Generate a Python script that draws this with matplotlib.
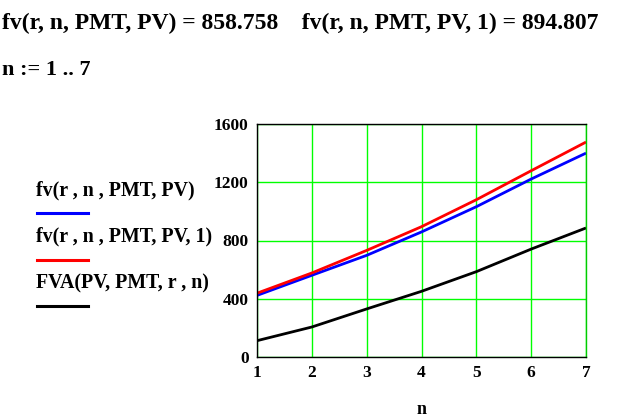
import matplotlib
matplotlib.use("Agg")
import matplotlib.pyplot as plt

n_vals = [1, 2, 3, 4, 5, 6, 7]
fv_end = [423, 561, 698, 858.758, 1032, 1222, 1400]
fv_begin = [438, 577, 732, 894.807, 1080, 1279, 1476]
fva = [112, 206, 330, 451, 586, 741, 886]
y_ticks = [0, 400, 800, 1200, 1600]
legend_labels = ["fv(r , n , PMT, PV)", "fv(r , n , PMT, PV, 1)", "FVA(PV, PMT, r , n)"]
colors = ["#0000FF", "#FF0000", "#000000"]

FONT = "Liberation Serif"
W, H = 625, 420
fig = plt.figure(figsize=(W / 100, H / 100), dpi=100)
fig.patch.set_facecolor("white")

ax = fig.add_axes([257 / W, 1 - 357 / H, (586 - 257) / W, (357 - 124) / H])
for ys, c in zip([fv_end, fv_begin, fva], colors):
    ax.plot(n_vals, ys, color=c, lw=2, solid_capstyle="butt")
ax.set_xlim(1, 7)
ax.set_ylim(0, 1600)
ax.set_xticks(n_vals)
ax.set_yticks(y_ticks)
ax.grid(True, color="#00FF00", lw=1)
ax.set_axisbelow(True)
for s in ax.spines.values():
    s.set_color("black")
    s.set_linewidth(1)
ax.spines["right"].set_color("#00CC00")
ax.tick_params(length=0, pad=6)
for lab in ax.get_xticklabels() + ax.get_yticklabels():
    lab.set_fontfamily(FONT)
    lab.set_fontweight("bold")
    lab.set_fontsize(12.5)
ax.set_xlabel("n", fontfamily=FONT, fontweight="bold", fontsize=13, labelpad=14)

fig.text(2 / W, 1 - 23 / H, "fv(r, n, PMT, PV) = 858.758    fv(r, n, PMT, PV, 1) = 894.807",
         fontfamily=FONT, fontweight="bold", fontsize=17, va="center", ha="left")
fig.text(2 / W, 1 - 70 / H, "n := 1 .. 7",
         fontfamily=FONT, fontweight="bold", fontsize=16, va="center", ha="left")

for i, (lab, c) in enumerate(zip(legend_labels, colors)):
    yt = 190 + i * 46.5
    fig.text(36 / W, 1 - yt / H, lab, fontfamily=FONT, fontweight="bold",
             fontsize=14.3, va="center", ha="left")
    yl = 1 - (yt + 23) / H
    fig.add_artist(plt.Line2D([37 / W, 88 / W], [yl, yl], color=c, lw=2.2,
                              transform=fig.transFigure))

fig.savefig("out.png", dpi=100, facecolor="white")
